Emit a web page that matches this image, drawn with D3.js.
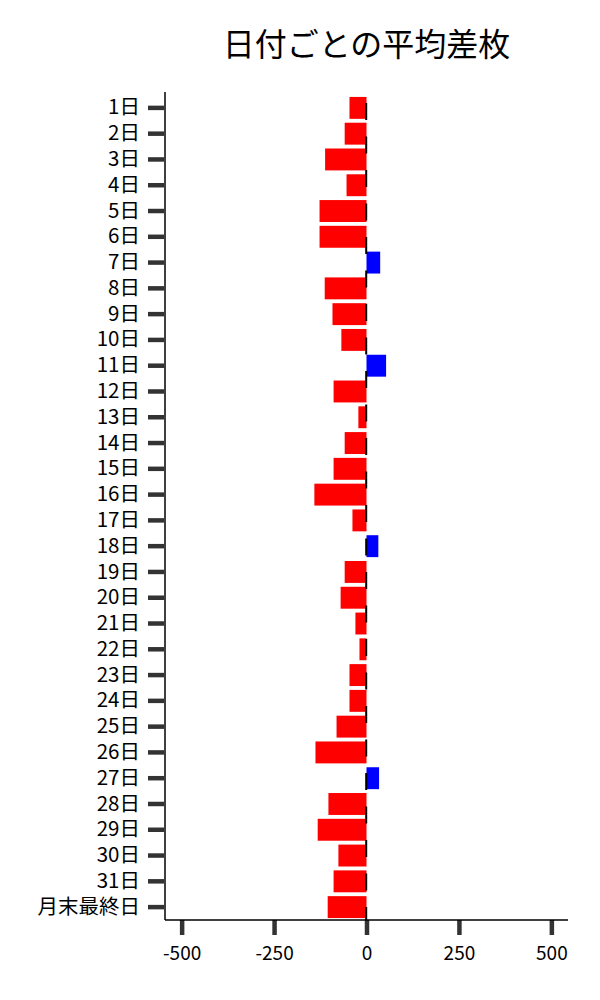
<!DOCTYPE html>
<html>
<head>
<meta charset="utf-8">
<script src="https://cdn.jsdelivr.net/npm/d3@7"></script>
<style>
  html, body { margin: 0; padding: 0; background: #fff; }
  text { font-family: "Noto Sans CJK JP", "Noto Sans", sans-serif; }
</style>
</head>
<body>
<svg id="chart" width="600" height="1000"></svg>
<script>
const title = "日付ごとの平均差枚";
const categories = ["1日","2日","3日","4日","5日","6日","7日","8日","9日","10日",
  "11日","12日","13日","14日","15日","16日","17日","18日","19日","20日",
  "21日","22日","23日","24日","25日","26日","27日","28日","29日","30日","31日","月末最終日"];
const values = [-46, -59, -112, -54, -127, -127, 37, -113, -92, -68,
  53, -89, -22, -59, -89, -141, -38, 32, -59, -70,
  -30, -19, -46, -46, -81, -138, 34, -103, -132, -76, -89, -105];
const xTicks = [-500, -250, 0, 250, 500];
const xDomain = [-545, 545];

(function () {
const svg = d3.select("#chart");
const mLeft = 165, mRight = 568, mTop = 95, mBottom = 920;

const x = d3.scaleLinear().domain(xDomain).range([mLeft, mRight]);
const y = d3.scaleBand().domain(categories).range([mTop, mBottom])
  .paddingInner(0.15).paddingOuter(0.075);

// title
svg.append("text")
  .attr("x", (mLeft + mRight) / 2).attr("y", 42)
  .attr("text-anchor", "middle").attr("dominant-baseline", "central")
  .attr("font-size", 32).attr("fill", "#000")
  .text(title);

// bars
svg.append("g").selectAll("rect")
  .data(categories.map((c, i) => ({c, v: values[i]})))
  .join("rect")
  .attr("x", d => x(Math.min(0, d.v)))
  .attr("width", d => Math.abs(x(d.v) - x(0)))
  .attr("y", d => y(d.c))
  .attr("height", y.bandwidth())
  .attr("fill", d => d.v < 0 ? "#ff0000" : "#0000ff");

// dashed zero line
svg.append("line")
  .attr("x1", x(0) - 0.3).attr("x2", x(0) - 0.3)
  .attr("y1", 92).attr("y2", mBottom)
  .attr("stroke", "#000").attr("stroke-width", 2)
  .attr("stroke-dasharray", "17 16.5")
  .attr("stroke-dashoffset", 22.5);

// y axis
const yAxis = svg.append("g")
  .attr("transform", `translate(${mLeft},0)`)
  .call(d3.axisLeft(y).tickSize(15).tickPadding(10));
yAxis.select(".domain").remove();
yAxis.selectAll(".tick line").attr("stroke", "#333").attr("stroke-width", 4.5)
  .attr("x2", -16).attr("transform", "translate(-1,0)");
yAxis.selectAll(".tick text").attr("font-size", 20.5).attr("fill", "#000")
  .attr("font-family", "'Noto Sans CJK JP', sans-serif");

// x axis
const xAxis = svg.append("g")
  .attr("transform", `translate(0,${mBottom})`)
  .call(d3.axisBottom(x).tickValues(xTicks).tickSize(15).tickPadding(12).tickFormat(d => String(d)));
xAxis.select(".domain").remove();
xAxis.selectAll(".tick line").attr("stroke", "#333").attr("stroke-width", 4.5);
xAxis.selectAll(".tick text").attr("font-size", 19).attr("fill", "#000")
  .attr("font-family", "'Noto Sans CJK JP', sans-serif");

// spines
svg.append("line").attr("x1", mLeft).attr("x2", mLeft).attr("y1", 92).attr("y2", mBottom)
  .attr("stroke", "#000").attr("stroke-width", 1.5);
svg.append("line").attr("x1", mLeft).attr("x2", mRight).attr("y1", mBottom).attr("y2", mBottom)
  .attr("stroke", "#000").attr("stroke-width", 1.5);
})();
</script>
</body>
</html>
